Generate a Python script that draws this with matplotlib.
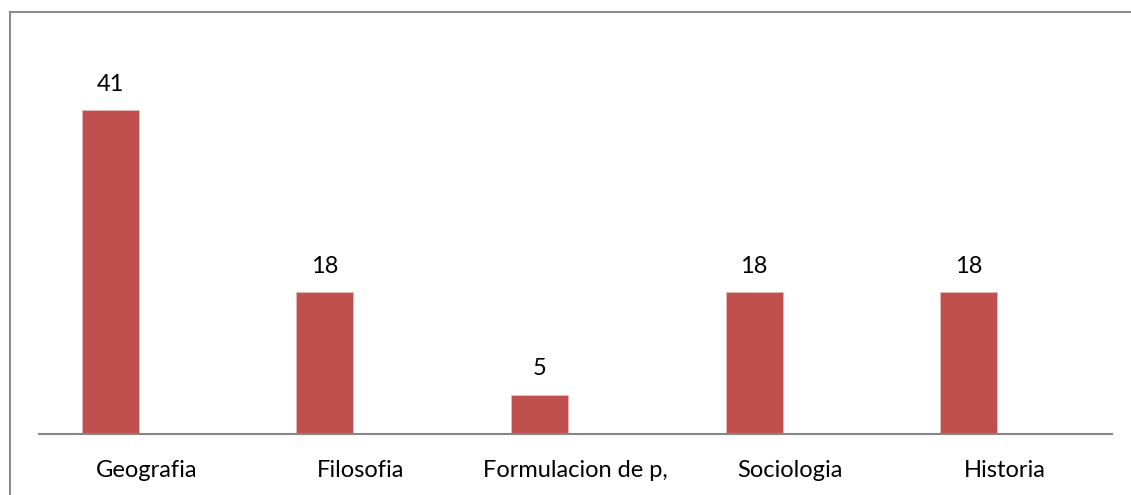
import matplotlib
matplotlib.use("Agg")
import matplotlib.pyplot as plt
from matplotlib.lines import Line2D

categories = ["Geografia", "Filosofia", "Formulacion de p,", "Sociologia", "Historia"]
values = [41, 18, 5, 18, 18]

plt.rcParams['font.family'] = ['Lato', 'DejaVu Sans']

W, H = 1131, 495
fig = plt.figure(figsize=(W / 100, H / 100), dpi=100)

# axes: x from 39 to 1112 px, baseline at y=434 px, top at 30 px
left, right, bottom, top = 39, 1112, 434, 30
ax = fig.add_axes([left / W, (H - bottom) / H, (right - left) / W, (bottom - top) / H])
scale = 7.9  # px per unit
ax.set_xlim(-0.5, len(categories) - 0.5)
ax.set_ylim(0, (bottom - top) / scale)

x = list(range(len(categories)))
bar_shift = -0.168  # bars sit left of the category centre (first slot of a cluster)
bx = [xi + bar_shift for xi in x]
ax.bar(bx, values, width=0.266, color="#C0504D", edgecolor="#E6B9B8", linewidth=0.6)
fs = 17
for xi, v in zip(bx, values):
    ax.annotate(str(v), (xi, v), xytext=(0, 18.5), textcoords="offset points",
                ha="center", va="center", fontsize=fs, color="#000000")

for s in ["top", "right", "left"]:
    ax.spines[s].set_visible(False)
ax.spines["bottom"].set_color("#868686")
ax.spines["bottom"].set_linewidth(1.5)
ax.set_yticks([])
ax.set_xticks([])
for xi, c in zip(x, categories):
    ax.annotate(c, (xi, 0), xytext=(0, -26), textcoords="offset points",
                ha="center", va="center", fontsize=fs, color="#000000",
                annotation_clip=False)

# outer chart border (left and top)
fig.add_artist(Line2D([9.5 / W, 9.5 / W], [0, 1 - 12 / H], transform=fig.transFigure,
                      color="#8C8C8C", linewidth=1.5))
fig.add_artist(Line2D([9.5 / W, 1], [1 - 12 / H, 1 - 12 / H], transform=fig.transFigure,
                      color="#8C8C8C", linewidth=1.5))

fig.savefig("out.png", dpi=100)
